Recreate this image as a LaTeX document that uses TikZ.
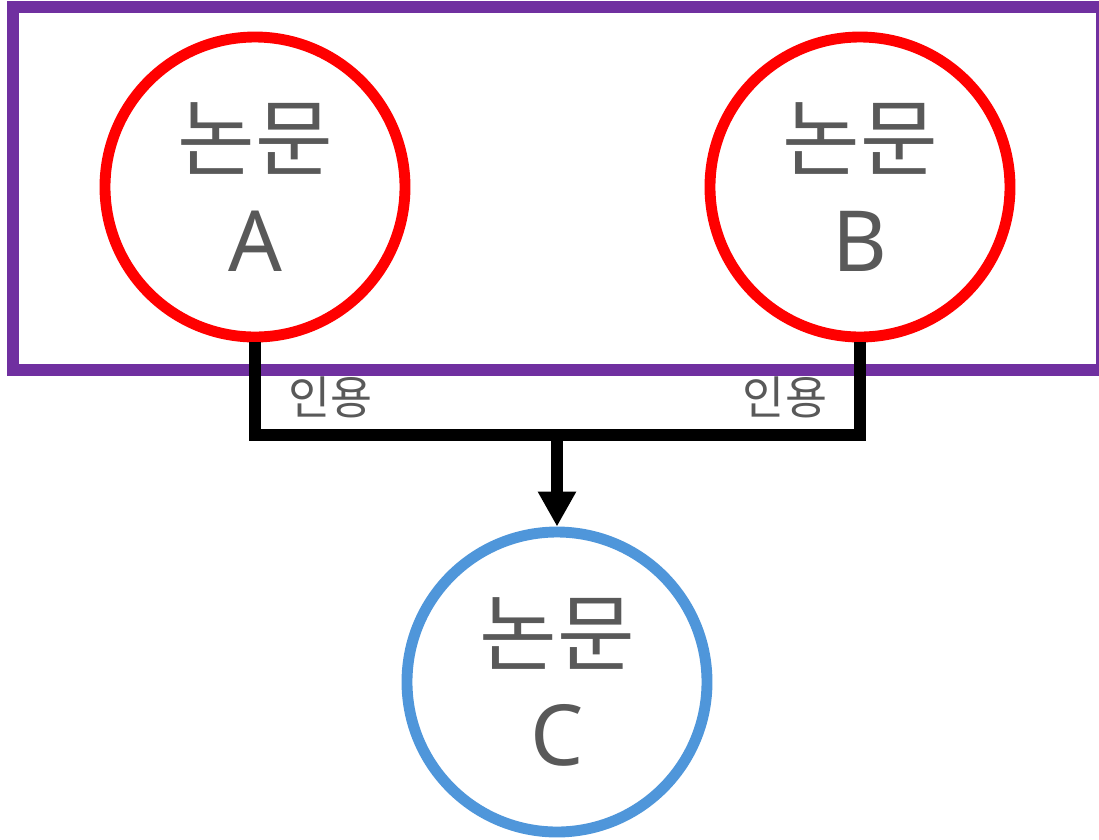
\documentclass[tikz,border=0pt]{standalone}
\usepackage{fontspec}
\setmainfont{Noto Sans CJK KR}
\newfontfamily\letterfont{Noto Sans}
\usetikzlibrary{arrows.meta, positioning, calc}
\definecolor{groupcol}{HTML}{7030A0}
\definecolor{srccol}{HTML}{FF0000}
\definecolor{dstcol}{HTML}{4F96DA}
\definecolor{textgray}{HTML}{595959}

\begin{document}
\begin{tikzpicture}[
        paper/.style={circle, line width=3.1pt, fill=white, minimum size=3cm, inner sep=0pt, align=center, text=textgray, font=\fontsize{24}{29}\selectfont},
        srcpaper/.style={paper, draw=srccol},
        dstpaper/.style={paper, draw=dstcol},
        group/.style={rectangle, draw=groupcol, line width=3.4pt, minimum width=10.89cm, minimum height=3.63cm, inner sep=0pt, outer sep=0pt},
        link/.style={line width=3.4pt, color=black},
        citelabel/.style={font=\fontsize{13}{15}\selectfont, text=textgray}
    ]
    \useasboundingbox (0,0) rectangle (10.99,-8.39);

    %% --- Group frame round A and B ---
    \node[group, anchor=north west] (grp) at (0.13,-0.07) {};

    %% --- Papers ---
    \node[srcpaper] (papA) at (2.55,-1.87) {논문\\{\letterfont A}};
    \node[srcpaper] (papB) at (8.60,-1.87) {논문\\{\letterfont B}};
    \node[dstpaper] (papC) at (5.57,-6.82) {논문\\{\letterfont C}};

    %% --- Citations: A and B join, then one arrow down to C ---
    \coordinate (junc) at (5.57,-4.35);
    \draw[link] (papA.south) |- (junc) -| (papB.south);
    \draw[link, -{Triangle[length=0.35cm, width=0.36cm]}] (junc) -- (papC.north);

    \node[citelabel] (citeA) at (3.31,-3.97) {인용};
    \node[citelabel] (citeB) at (7.85,-3.97) {인용};

\end{tikzpicture}
\end{document}
